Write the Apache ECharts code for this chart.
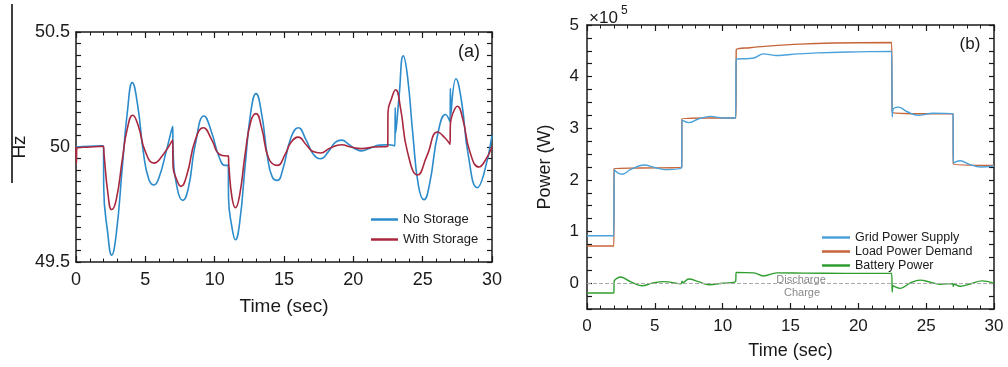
<!DOCTYPE html>
<html>
<head>
<meta charset="utf-8">
<script src="https://cdn.jsdelivr.net/npm/echarts@6/dist/echarts.min.js"></script>
<style>
  html, body { margin: 0; padding: 0; background: #fff; }
  #chart { width: 1008px; height: 367px; }
</style>
</head>
<body>
<div id="chart"></div>
<script>
// ---- (a) frequency, Hz ----
var tNoStorage = [0, 1, 1.98, 2.0, 2.3, 2.57, 2.9, 3.35, 3.7, 4.06, 4.45, 4.85, 5.25, 5.63, 6.0, 6.5, 6.97, 7.0, 7.3, 7.7, 8.1, 8.6, 9.23, 9.8, 10.3, 10.75, 10.98, 11.0, 11.25, 11.5, 11.8, 12.2, 12.6, 12.98, 13.4, 13.8, 14.15, 14.52, 14.9, 15.5, 16.03, 16.6, 17.1, 17.64, 18.2, 18.7, 19.16, 19.7, 20.2, 20.6, 21.2, 21.9, 22.5, 23.0, 23.02, 23.05, 23.3, 23.6, 23.9, 24.3, 24.7, 25.1, 25.5, 26.1, 26.65, 26.97, 27.0, 27.03, 27.4, 27.8, 28.3, 28.94, 29.4, 30];
var hzNoStorage = [50.0, 50.003, 50.005, 49.82, 49.62, 49.53, 49.62, 49.92, 50.15, 50.28, 50.18, 49.98, 49.86, 49.835, 49.87, 49.98, 50.09, 49.99, 49.82, 49.768, 49.82, 50.01, 50.135, 50.06, 49.96, 49.92, 49.92, 49.78, 49.65, 49.597, 49.67, 49.92, 50.15, 50.232, 50.14, 49.96, 49.87, 49.855, 49.9, 50.04, 50.084, 50.03, 49.97, 49.949, 49.98, 50.02, 50.03, 50.01, 49.99, 49.983, 49.995, 50.008, 50.01, 50.005, 50.17, 50.06, 50.22, 50.396, 50.31, 50.05, 49.83, 49.771, 49.84, 50.06, 50.141, 50.11, 50.255, 50.14, 50.297, 50.2, 49.96, 49.823, 49.88, 50.05];

var tWithStorage = [0, 0.03, 0.06, 1, 1.98, 2.02, 2.3, 2.57, 2.9, 3.35, 3.7, 4.09, 4.5, 5.0, 5.63, 6.2, 6.97, 7.0, 7.25, 7.57, 8.0, 8.6, 9.18, 9.8, 10.3, 10.87, 10.98, 11.02, 11.25, 11.5, 11.8, 12.2, 12.6, 12.98, 13.4, 13.9, 14.52, 15.1, 15.5, 16.03, 16.6, 17.1, 17.64, 18.3, 19.16, 19.8, 20.6, 21.5, 22.48, 22.5, 22.75, 23.05, 23.4, 23.9, 24.64, 25.3, 26.08, 26.6, 26.97, 27.0, 27.2, 27.5, 27.9, 28.4, 29.06, 29.5, 30];
var hzWithStorage = [50.0, 49.93, 49.995, 50.0, 50.003, 49.97, 49.8, 49.728, 49.77, 49.95, 50.08, 50.138, 50.09, 49.98, 49.93, 49.96, 50.03, 49.915, 49.86, 49.829, 49.88, 50.03, 50.084, 50.03, 49.97, 49.961, 49.962, 49.92, 49.78, 49.736, 49.79, 49.97, 50.11, 50.145, 50.08, 49.95, 49.92, 49.97, 50.02, 50.043, 50.01, 49.98, 49.974, 49.995, 50.01, 50.0, 49.993, 50.0, 50.003, 50.15, 50.21, 50.249, 50.17, 49.98, 49.878, 49.96, 50.065, 50.04, 50.012, 50.1, 50.15, 50.177, 50.12, 49.98, 49.913, 49.94, 50.0];

// ---- (b) power, W ----
var tGrid = [0, 1.98, 2.0, 2.3, 2.6, 3.2, 4.2, 5.0, 5.7, 6.98, 7.0, 7.5, 8.2, 9.1, 10.0, 10.95, 11.0, 12.3, 13.0, 13.9, 15, 17, 20, 22.45, 22.5, 22.55, 22.95, 23.6, 24.4, 25.5, 26.98, 27.0, 27.5, 28.2, 29, 30];
var wGrid = [92000, 92000, 220000, 213000, 211000, 220000, 229000, 224000, 220000, 224000, 316000, 311000, 318000, 323000, 320000, 320000, 433000, 436000, 444000, 441000, 443000, 446000, 448000, 449000, 322000, 336000, 341000, 332000, 325000, 329000, 328000, 233000, 237000, 230000, 225000, 227000];

var tLoad = [0, 1.98, 2.0, 4, 6.98, 7.0, 9, 10.98, 11.0, 12, 13.3, 15.7, 18.2, 22.45, 22.5, 25, 26.98, 27.0, 30];
var wLoad = [72000, 72000, 222000, 223000, 225000, 318000, 320000, 320000, 452000, 456000, 459000, 463000, 465000, 466000, 331000, 328000, 328000, 231000, 228000];

var tBattery = [0, 1.98, 2.0, 2.05, 2.45, 3.2, 4.05, 4.8, 5.65, 6.95, 7.0, 7.05, 7.5, 8.2, 9.0, 10.0, 10.95, 11.0, 12.3, 13.0, 14.0, 16, 19, 22.45, 22.5, 22.55, 23.1, 23.8, 24.55, 25.3, 26.0, 26.95, 27.0, 27.05, 27.5, 28.3, 29.1, 30];
var wBattery = [-19000, -19000, 3000, 6000, 12000, 3000, -5000, 0, 3000, -1000, 4000, 1000, 8000, 3000, -3000, 0, 3000, 21000, 20000, 14000, 20000, 19500, 19000, 19000, -17000, -5000, -10000, 0, 6000, 2000, -2000, -1000, -6000, -2000, -6000, -1000, 4500, 0];

var FONT = 'Liberation Sans, Arial, Helvetica, sans-serif';
var INK = '#1a1a1a';

function zip(ts, vs) {
    return ts.map(function (t, i) { return [t, vs[i]]; });
}

// time axis, bottom one carries the labels
function timeAxis(grid, pos, fontSize, name, gap) {
    return {
        type: 'value', gridIndex: grid, position: pos,
        min: 0, max: 30, interval: 5,
        name: name, nameLocation: 'middle', nameGap: gap,
        nameTextStyle: {fontSize: fontSize + 1, color: INK, fontFamily: FONT},
        axisLine: {show: true, onZero: false, lineStyle: {color: INK, width: 1.5}},
        axisTick: {show: true, inside: true, length: 6, lineStyle: {color: INK, width: 1.2}},
        minorTick: {show: true, splitNumber: 5, length: 3.5, lineStyle: {color: INK, width: 1}},
        splitLine: {show: false},
        axisLabel: {show: pos === 'bottom', fontSize: fontSize, color: INK, fontFamily: FONT, margin: 9}
    };
}

var option = {
    animation: false,
    backgroundColor: '#fff',
    grid: [
        {left: 76, top: 32, width: 416, height: 230},
        {left: 587, top: 25, width: 407, height: 284}
    ],
    xAxis: [
        timeAxis(0, 'bottom', 18, 'Time (sec)', 35),
        timeAxis(0, 'top', 18, '', 0),
        timeAxis(1, 'bottom', 17, 'Time (sec)', 33),
        timeAxis(1, 'top', 17, '', 0)
    ],
    yAxis: [
        {
            type: 'value', gridIndex: 0, position: 'left',
            min: 49.5, max: 50.5, interval: 0.5,
            name: 'Hz', nameLocation: 'middle', nameGap: 47,
            nameTextStyle: {fontSize: 19, color: INK, fontFamily: FONT},
            axisLine: {show: true, onZero: false, lineStyle: {color: INK, width: 1.5}},
            axisTick: {show: true, inside: true, length: 5, lineStyle: {color: INK, width: 1.2}},
            minorTick: {show: true, splitNumber: 10, length: 5, lineStyle: {color: INK, width: 1.2}},
            splitLine: {show: false},
            axisLabel: {fontSize: 18, color: INK, fontFamily: FONT, margin: 6}
        },
        {
            type: 'value', gridIndex: 0, position: 'right',
            min: 49.5, max: 50.5, interval: 0.5,
            axisLine: {show: true, onZero: false, lineStyle: {color: INK, width: 1.5}},
            axisTick: {show: true, inside: true, length: 5, lineStyle: {color: INK, width: 1.2}},
            minorTick: {show: true, splitNumber: 10, length: 5, lineStyle: {color: INK, width: 1.2}},
            splitLine: {show: false},
            axisLabel: {show: false}
        },
        {
            type: 'value', gridIndex: 1, position: 'left',
            min: -50000, max: 500000, interval: 25000,
            name: 'Power (W)', nameLocation: 'middle', nameGap: 33,
            nameTextStyle: {fontSize: 18, color: INK, fontFamily: FONT},
            axisLine: {show: true, onZero: false, lineStyle: {color: INK, width: 1.5}},
            axisTick: {show: true, inside: true, length: 5, lineStyle: {color: INK, width: 1.2}},
            splitLine: {show: false},
            axisLabel: {
                fontSize: 17, color: INK, fontFamily: FONT, margin: 8,
                formatter: function (v) { return v % 100000 === 0 ? String(v / 100000) : ''; }
            }
        },
        {
            type: 'value', gridIndex: 1, position: 'right',
            min: -50000, max: 500000, interval: 25000,
            axisLine: {show: true, onZero: false, lineStyle: {color: INK, width: 1.5}},
            axisTick: {show: true, inside: true, length: 5, lineStyle: {color: INK, width: 1.2}},
            splitLine: {show: false},
            axisLabel: {show: false}
        }
    ],
    legend: [
        {
            data: ['No Storage', 'With Storage'],
            orient: 'vertical', left: 371, top: 213, itemGap: 7, padding: 0,
            icon: 'rect', itemWidth: 27, itemHeight: 2.5,
            textStyle: {fontSize: 13, color: INK, fontFamily: FONT}
        },
        {
            data: ['Grid Power Supply', 'Load Power Demand', 'Battery Power'],
            orient: 'vertical', left: 822, top: 231, itemGap: 1, padding: 0,
            icon: 'rect', itemWidth: 28, itemHeight: 2.5,
            textStyle: {fontSize: 12.5, color: INK, fontFamily: FONT}
        }
    ],
    series: [
        {
            name: 'No Storage', type: 'line', xAxisIndex: 0, yAxisIndex: 0,
            data: zip(tNoStorage, hzNoStorage), symbol: 'none',
            smooth: 0.5,
            color: '#2b8bcb', lineStyle: {width: 1.6}, z: 3
        },
        {
            name: 'With Storage', type: 'line', xAxisIndex: 0, yAxisIndex: 0,
            data: zip(tWithStorage, hzWithStorage), symbol: 'none',
            smooth: 0.5,
            color: '#a8283f', lineStyle: {width: 1.6}, z: 4
        },
        {
            name: 'Load Power Demand', type: 'line', xAxisIndex: 2, yAxisIndex: 2,
            data: zip(tLoad, wLoad), symbol: 'none',
            smooth: 0.3,
            color: '#c5653a', lineStyle: {width: 1.4}, z: 3
        },
        {
            name: 'Grid Power Supply', type: 'line', xAxisIndex: 2, yAxisIndex: 2,
            data: zip(tGrid, wGrid), symbol: 'none',
            smooth: 0.4,
            color: '#4ba1da', lineStyle: {width: 1.4}, z: 4
        },
        {
            name: 'Battery Power', type: 'line', xAxisIndex: 2, yAxisIndex: 2,
            data: zip(tBattery, wBattery), symbol: 'none',
            smooth: 0.4,
            color: '#2f9e2f', lineStyle: {width: 1.4}, z: 4,
            markLine: {
                silent: true, symbol: 'none', label: {show: false},
                lineStyle: {type: 'dashed', color: '#aaaaaa', width: 1},
                data: [{yAxis: 0}]
            }
        }
    ],
    graphic: [
        {type: 'line', shape: {x1: 12, y1: 4, x2: 12, y2: 183}, style: {stroke: '#000', lineWidth: 1.5}},
        {type: 'text', style: {text: '(a)', x: 469, y: 52, align: 'center', verticalAlign: 'middle', font: '18px ' + FONT, fill: INK}},
        {type: 'text', style: {text: '(b)', x: 970, y: 44, align: 'center', verticalAlign: 'middle', font: '17px ' + FONT, fill: INK}},
        {type: 'text', style: {text: '\u00d710', x: 589, y: 18, align: 'left', verticalAlign: 'middle', font: '17px ' + FONT, fill: INK}},
        {type: 'text', style: {text: '5', x: 621, y: 11, align: 'left', verticalAlign: 'middle', font: '12px ' + FONT, fill: INK}},
        {type: 'text', style: {text: 'Discharge', x: 801, y: 280, align: 'center', verticalAlign: 'middle', font: '11px ' + FONT, fill: '#8a8a8a'}},
        {type: 'text', style: {text: 'Charge', x: 802, y: 293, align: 'center', verticalAlign: 'middle', font: '11px ' + FONT, fill: '#8a8a8a'}}
    ]
};

var myChart = echarts.init(document.getElementById('chart'));
myChart.setOption(option);
</script>
</body>
</html>
